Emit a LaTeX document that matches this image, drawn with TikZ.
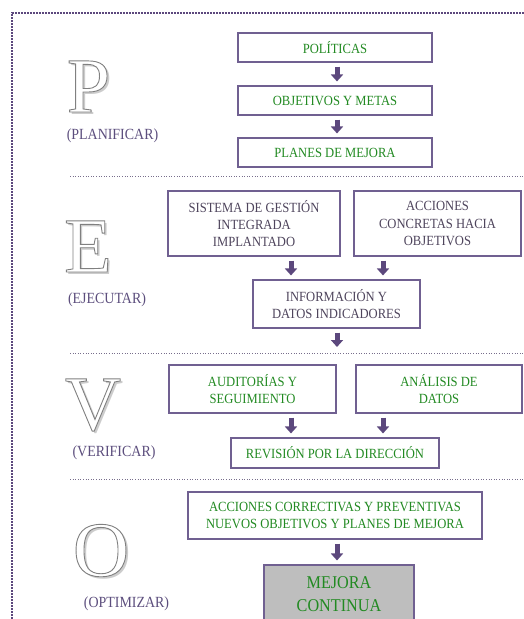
\documentclass[tikz,border=0pt]{standalone}
\usepackage{fontspec}
\setmainfont{Liberation Serif}
\newfontfamily\condfont[FakeStretch=0.9]{Liberation Serif}
\usetikzlibrary{arrows.meta}
\definecolor{boxpurple}{RGB}{112,96,145}
\definecolor{arrpurple}{RGB}{92,72,125}
\definecolor{labpurple}{RGB}{92,78,125}
\definecolor{txtgreen}{RGB}{34,138,34}
\definecolor{txtdark}{RGB}{78,68,92}
\definecolor{sepcol}{RGB}{120,110,140}
\definecolor{mejfill}{RGB}{190,190,190}
\tikzset{
  box/.style={draw=boxpurple, line width=1.1pt, fill=white, align=center, inner sep=2pt,
    font=\condfont\fontsize{14}{17.3}\selectfont, text=txtgreen},
  arr/.style={draw=arrpurple, line width=5pt, -{Triangle[width=12pt,length=7pt]},
    shorten <=4pt, shorten >=4pt},
  sep/.style={draw=sepcol, line width=0.6pt, dotted},
  lab/.style={anchor=base, inner sep=0pt, text=labpurple, font=\condfont\fontsize{15.5}{16}\selectfont},
  bigl/.style={anchor=base, inner sep=0pt, font=\fontsize{78}{78}\selectfont}
}
\newcommand\outl[1]{\special{pdf:literal direct 0.5 0.5 0.5 RG 0.9 w 2 Tr}#1\special{pdf:literal direct 0 Tr}}
\newcommand\bigletter[4]{%
  \node[bigl, text=black!20, xshift=2.5pt, yshift=-2.5pt] at (#1,#2) {#3};
  \node[bigl, text=white] (#4) at (#1,#2) {\outl{#3}};
}
\begin{document}
\begin{tikzpicture}[x=1pt,y=-1pt]
\useasboundingbox (0,0) rectangle (524,619);
% outer dotted frame
\draw[draw=arrpurple, line width=2pt, dash pattern=on 1.6pt off 1.4pt] (12,640) -- (12,13) -- (530,13);
% separators
\draw[sep] (70,176.5) -- (524,176.5);
\draw[sep] (70,353) -- (524,353);
\draw[sep] (70,479) -- (524,479);

% big letters
\bigletter{88.5}{112}{P}{letP}
\bigletter{88}{272}{E}{letE}
\bigletter{93}{430}{V}{letV}
\bigletter{101}{576}{O}{letO}
\node[lab] (lP) at (112.5,139) {(PLANIFICAR)};
\node[lab] (lE) at (107,303.5) {(EJECUTAR)};
\node[lab] (lV) at (114,456) {(VERIFICAR)};
\node[lab] (lO) at (126.5,607) {(OPTIMIZAR)};

% P
\node[box, minimum width=194pt, minimum height=29pt] (pol) at (335,47.5) {POLÍTICAS};
\node[box, minimum width=194pt, minimum height=29pt] (obj) at (335,100.5) {OBJETIVOS Y METAS};
\node[box, minimum width=194pt, minimum height=29pt] (pla) at (335,152.5) {PLANES DE MEJORA};
\draw[arr] ([xshift=2pt]pol.south) -- ([xshift=2pt]obj.north);
\draw[arr] ([xshift=2pt]obj.south) -- ([xshift=2pt]pla.north);

% E
\node[box, text=txtdark, minimum width=172pt, minimum height=65pt] (sis) at (254,223.5) {SISTEMA DE GESTIÓN\\INTEGRADA\\IMPLANTADO};
\node[box, text=txtdark, minimum width=167pt, minimum height=65pt] (acc) at (437.5,223.5) {ACCIONES\\CONCRETAS HACIA\\OBJETIVOS};
\node[box, text=txtdark, minimum width=167pt, minimum height=48pt] (inf) at (336.5,304) {INFORMACIÓN Y\\DATOS INDICADORES};
\draw[arr] ([xshift=37pt]sis.south) -- ([xshift=37pt]sis.south |- inf.north);
\draw[arr] ([xshift=-54.5pt]acc.south) -- ([xshift=-54.5pt]acc.south |- inf.north);
\coordinate (infend) at (337,351);
\draw[arr] (inf.south -| infend) -- (infend);

% V
\node[box, minimum width=167pt, minimum height=48pt] (aud) at (252.5,389) {AUDITORÍAS Y\\SEGUIMIENTO};
\node[box, minimum width=166pt, minimum height=48pt] (ana) at (439,389) {ANÁLISIS DE\\DATOS};
\node[box, minimum width=208pt, minimum height=30pt] (rev) at (335,453) {REVISIÓN POR LA DIRECCIÓN};
\draw[arr] ([xshift=38.5pt]aud.south) -- ([xshift=38.5pt]aud.south |- rev.north);
\draw[arr] ([xshift=-56pt]ana.south) -- ([xshift=-56pt]ana.south |- rev.north);

% O
\node[box, minimum width=294pt, minimum height=47pt] (cor) at (335,515.5) {ACCIONES CORRECTIVAS Y PREVENTIVAS\\NUEVOS OBJETIVOS Y PLANES DE MEJORA};
\node[box, fill=mejfill, minimum width=150pt, minimum height=58pt, font=\condfont\fontsize{18}{23}\selectfont] (mej) at (339,594) {MEJORA\\CONTINUA};
\draw[arr] ([xshift=2pt]cor.south) -- ([xshift=-2pt]mej.north);
\end{tikzpicture}
\end{document}
